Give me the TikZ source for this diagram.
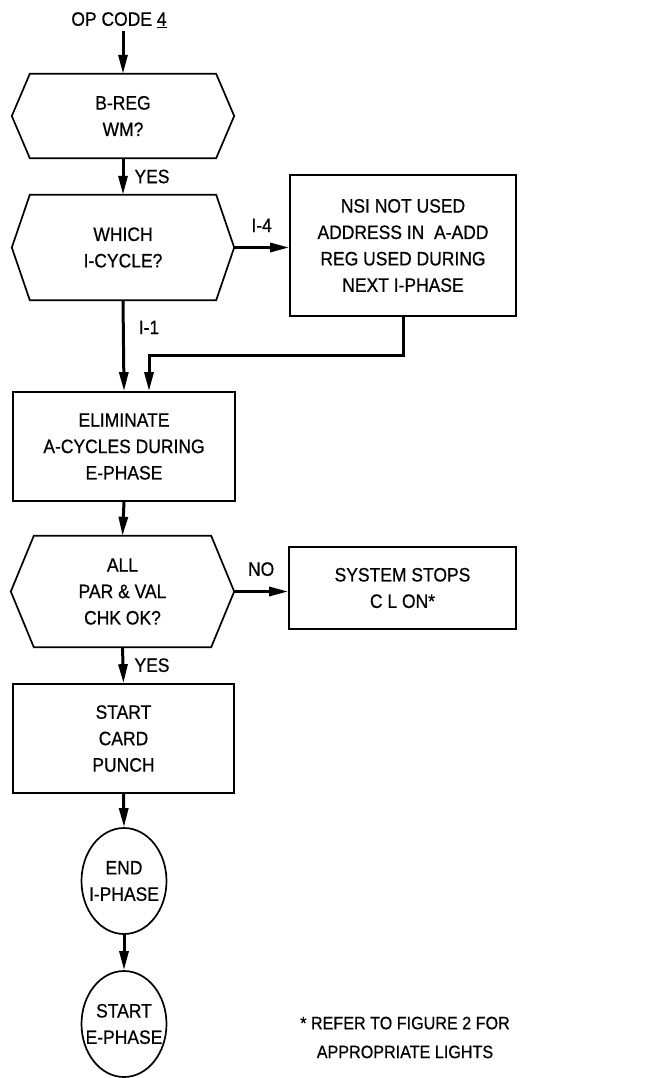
\documentclass[tikz,border=0pt]{standalone}
\usepackage{fontspec}
\setmainfont{Liberation Sans}[FakeStretch=0.9, FakeBold=0.6]
\usetikzlibrary{arrows.meta,shapes.geometric,calc}
\newcommand{\hexpath}[2]{\draw[shapeline] ([xshift=#2]#1.north west) -- ([xshift=-#2]#1.north east) -- (#1.east) -- ([xshift=-#2]#1.south east) -- ([xshift=#2]#1.south west) -- (#1.west) -- cycle;}
\begin{document}
\begin{tikzpicture}[x=1bp,y=-1bp,
  txt/.style={font=\fontsize{19.5}{26.5}\selectfont, align=center, inner sep=0pt},
  shapeline/.style={line width=1.7bp},
  boxnode/.style={txt, draw, shapeline, rectangle},
  hexnode/.style={txt, minimum width=222bp},
  oval/.style={txt, draw, shapeline, ellipse, minimum width=85bp, minimum height=106bp, inner xsep=-14bp},
  flow/.style={line width=3bp, -{Triangle[length=19bp,width=9bp]}},
  lab/.style={font=\fontsize{19.5}{22}\selectfont, inner sep=0pt}
]
\useasboundingbox (0,0) rectangle (669,1078);

\node[lab, inner sep=3bp] (op) at (119,20) {OP CODE \underline{4}};

\node[hexnode, minimum height=84bp] (h1) at (123,116) {B-REG\\WM?};
\node[hexnode, minimum height=105bp] (h2) at (123,247.5) {WHICH\\I-CYCLE?};
\node[boxnode, minimum width=226bp, minimum height=141bp] (nsi) at (403,245.5) {NSI NOT USED\\ADDRESS IN\ \ A-ADD\\REG USED DURING\\NEXT I-PHASE};
\node[boxnode, minimum width=222bp, minimum height=109bp] (elim) at (124,446.5) {ELIMINATE\\A-CYCLES DURING\\E-PHASE};
\node[hexnode, minimum width=223bp, minimum height=111bp] (h3) at (122.5,591.5) {ALL\\PAR \& VAL\\CHK OK?};
\node[boxnode, minimum width=227bp, minimum height=82bp] (stops) at (402.5,588) {SYSTEM STOPS\\C L ON*};
\node[boxnode, minimum width=221bp, minimum height=109bp] (card) at (123.5,738.5) {START\\CARD\\PUNCH};
\node[oval] (e1) at (124,881) {END\\I-PHASE};
\node[oval] (e2) at (124,1024) {START\\E-PHASE};
\node[txt, font=\fontsize{18}{29}\selectfont] (note) at (405,1037.5) {* REFER TO FIGURE 2 FOR\\APPROPRIATE LIGHTS};

\hexpath{h1}{18bp}
\hexpath{h2}{18bp}
\hexpath{h3}{23bp}

\draw[flow] (op.south -| h1.north) -- (h1.north);
\draw[flow] (h1.south) -- node[lab, right=10bp] {YES} (h2.north);
\draw[flow] (h2.east) -- node[lab, above=14bp] {I-4} (h2.east -| nsi.west);
\draw[flow] (h2.south) -- node[lab, pos=0.3, right=14bp] {I-1} (elim.north);
\draw[flow] (nsi.south) -- ++(0,39) -| ([xshift=25bp]elim.north);
\draw[flow] (elim.south) -- (h3.north);
\draw[flow] (h3.east) -- node[lab, above=14bp] {NO} (h3.east -| stops.west);
\draw[flow] (h3.south) -- node[lab, right=10bp] {YES} (card.north);
\draw[flow] (card.south) -- (e1.north);
\draw[flow] (e1.south) -- (e2.north);
\end{tikzpicture}
\end{document}
